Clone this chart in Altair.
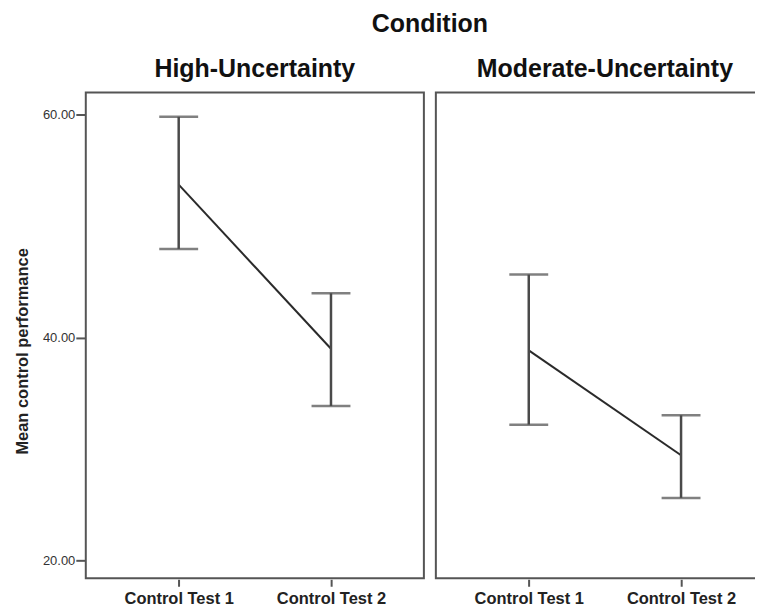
import altair as alt
import pandas as pd

conditions = ["High-Uncertainty", "High-Uncertainty", "Moderate-Uncertainty", "Moderate-Uncertainty"]
tests = ["Control Test 1", "Control Test 2", "Control Test 1", "Control Test 2"]
means = [53.68, 38.99, 38.84, 29.45]
lowers = [47.93, 33.86, 32.19, 25.63]
uppers = [59.76, 43.96, 45.63, 33.03]
y_ticks = [20, 40, 60]

df = pd.DataFrame({
    "Condition": conditions,
    "Test": tests,
    "mean": means,
    "lower": lowers,
    "upper": uppers,
})

FONT = "Liberation Sans"
yscale = alt.Scale(domain=[18.43, 61.93], nice=False, zero=False)
xscale = alt.Scale(type="point", padding=0.61)

x = alt.X("Test:N", scale=xscale, sort=["Control Test 1", "Control Test 2"],
          axis=alt.Axis(title=None, labelFont=FONT, labelFontSize=16.5, labelFontWeight="bold",
                        labelColor="#222", labelAngle=0, tickSize=7, tickColor="#555",
                        tickWidth=2, domain=False, labelPadding=4))
y_axis = alt.Axis(title="Mean control performance", titleFont=FONT, titleFontSize=16.5,
                  titleFontWeight="bold", titleColor="#222", titlePadding=12, titleY=259,
                  values=y_ticks, format=".2f", labelFont=FONT, labelFontSize=13,
                  labelColor="#333", tickSize=9, tickColor="#555", tickWidth=2,
                  labelPadding=1, domain=False, grid=False)

base = alt.Chart(df)
line = base.mark_line(color="#2a2a2a", strokeWidth=2).encode(
    x=x, y=alt.Y("mean:Q", scale=yscale, axis=y_axis))
rule = base.mark_rule(color="#4a4a4a", strokeWidth=2.5).encode(
    x=x, y=alt.Y("lower:Q", scale=yscale), y2="upper:Q")
cap_lo = base.mark_tick(color="#4a4a4a", size=39, thickness=2.5).encode(
    x=x, y=alt.Y("lower:Q", scale=yscale))
cap_hi = base.mark_tick(color="#4a4a4a", size=39, thickness=2.5).encode(
    x=x, y=alt.Y("upper:Q", scale=yscale))

layered = alt.layer(line, rule, cap_lo, cap_hi).properties(width=339, height=487)

chart = layered.facet(
    column=alt.Column("Condition:N", sort=["High-Uncertainty", "Moderate-Uncertainty"],
                      header=alt.Header(title="Condition", titleFont=FONT, titleFontSize=25,
                                        titleFontWeight="bold", titleColor="#111",
                                        labelFont=FONT, labelFontSize=25, labelFontWeight="bold",
                                        labelColor="#111", labelPadding=10, titlePadding=10)),
    spacing=10,
).configure_view(stroke="#555", strokeWidth=2).properties(
    padding={"left": 6, "top": 3, "right": -20, "bottom": 0},
    background="white",
)

chart.save("out.html", embed_options={"renderer": "svg", "actions": False})
